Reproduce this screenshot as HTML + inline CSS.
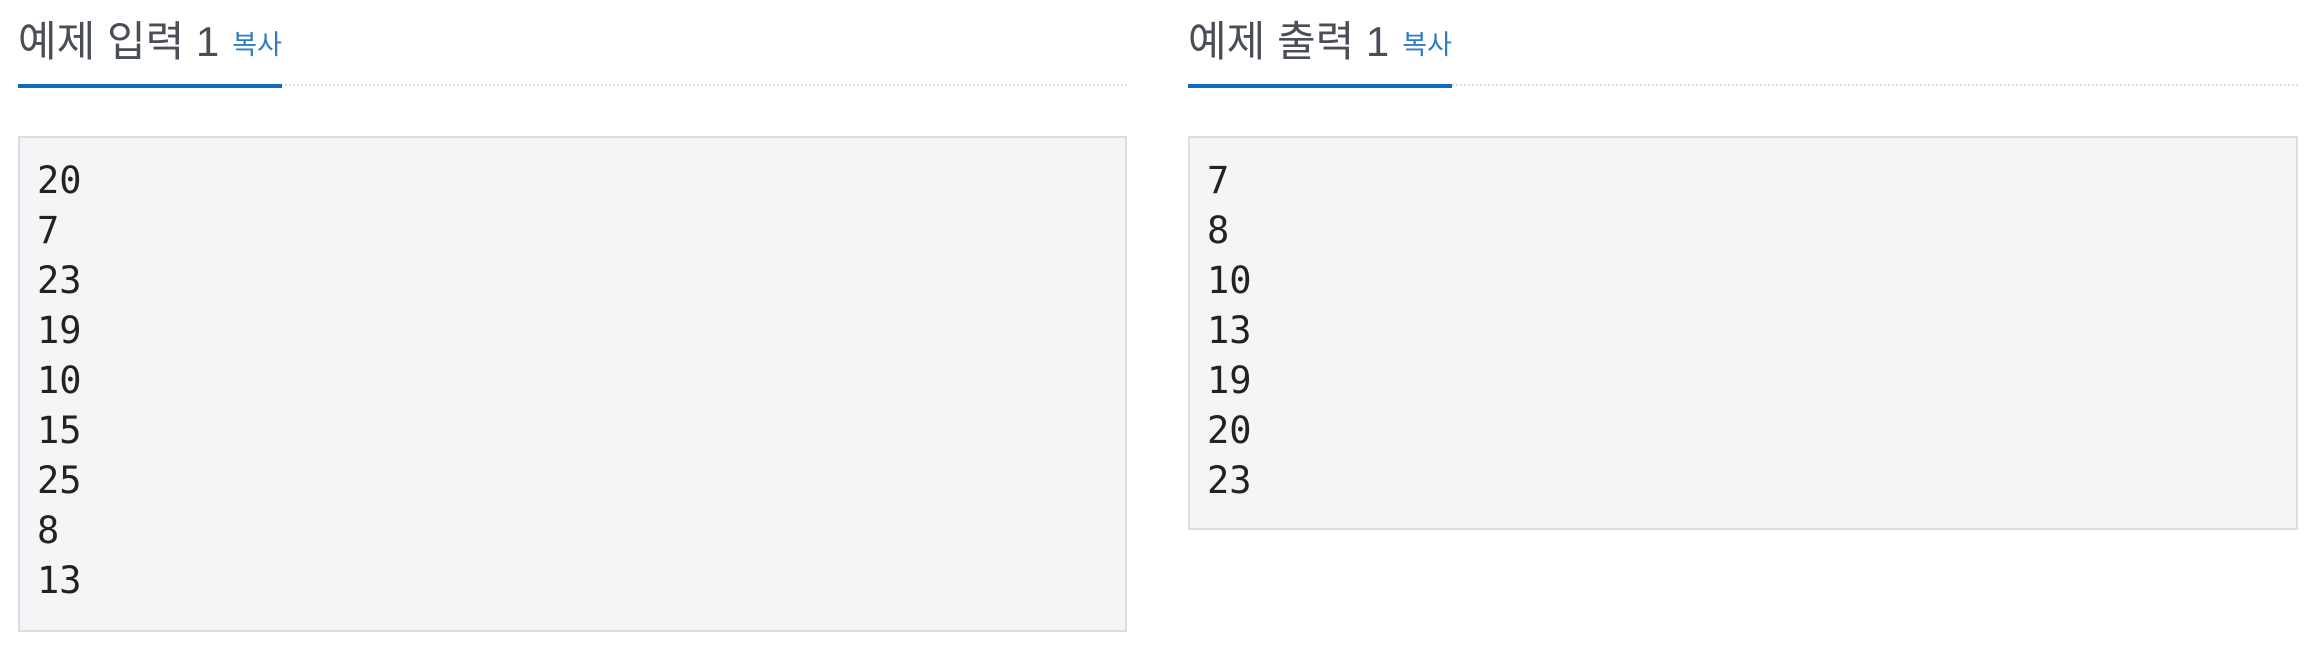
<!DOCTYPE html>
<html><head><meta charset="utf-8"><style>
html,body{margin:0;padding:0;background:#fff;width:2320px;height:654px;overflow:hidden}
.panel{position:absolute;top:0}
.title{position:absolute;left:0;top:13px;white-space:nowrap;font-family:"Liberation Sans","Noto Sans CJK KR",sans-serif;font-size:42px;color:#4a4f57;line-height:58px}
.copy{font-size:27px;color:#2e7dc4;margin-left:13px;vertical-align:2px}
.rule{position:absolute;left:0;top:84px;right:0;border-top:2px dotted #dcdde0}
.blue{position:absolute;left:0;top:84px;height:4px;background:#0f6cbd}
.box{position:absolute;top:136px;left:0;right:0;box-sizing:border-box;background:#f5f5f7;border:2px solid #dcdde2;padding:18px 18px 0 17px;font-family:"DejaVu Sans Mono","Liberation Mono",monospace;font-size:37px;line-height:50px;color:#222;white-space:pre;margin:0}
</style></head><body>
<div class="panel" style="left:18px;width:1109px">
 <div class="title">예제 입력 1<span class="copy">복사</span></div>
 <div class="rule"></div>
 <div class="blue" style="width:264px"></div>
 <pre class="box" style="height:496px">20
7
23
19
10
15
25
8
13</pre>
</div>
<div class="panel" style="left:1188px;width:1110px">
 <div class="title">예제 출력 1<span class="copy">복사</span></div>
 <div class="rule"></div>
 <div class="blue" style="width:264px"></div>
 <pre class="box" style="height:394px">7
8
10
13
19
20
23</pre>
</div>
</body></html>
